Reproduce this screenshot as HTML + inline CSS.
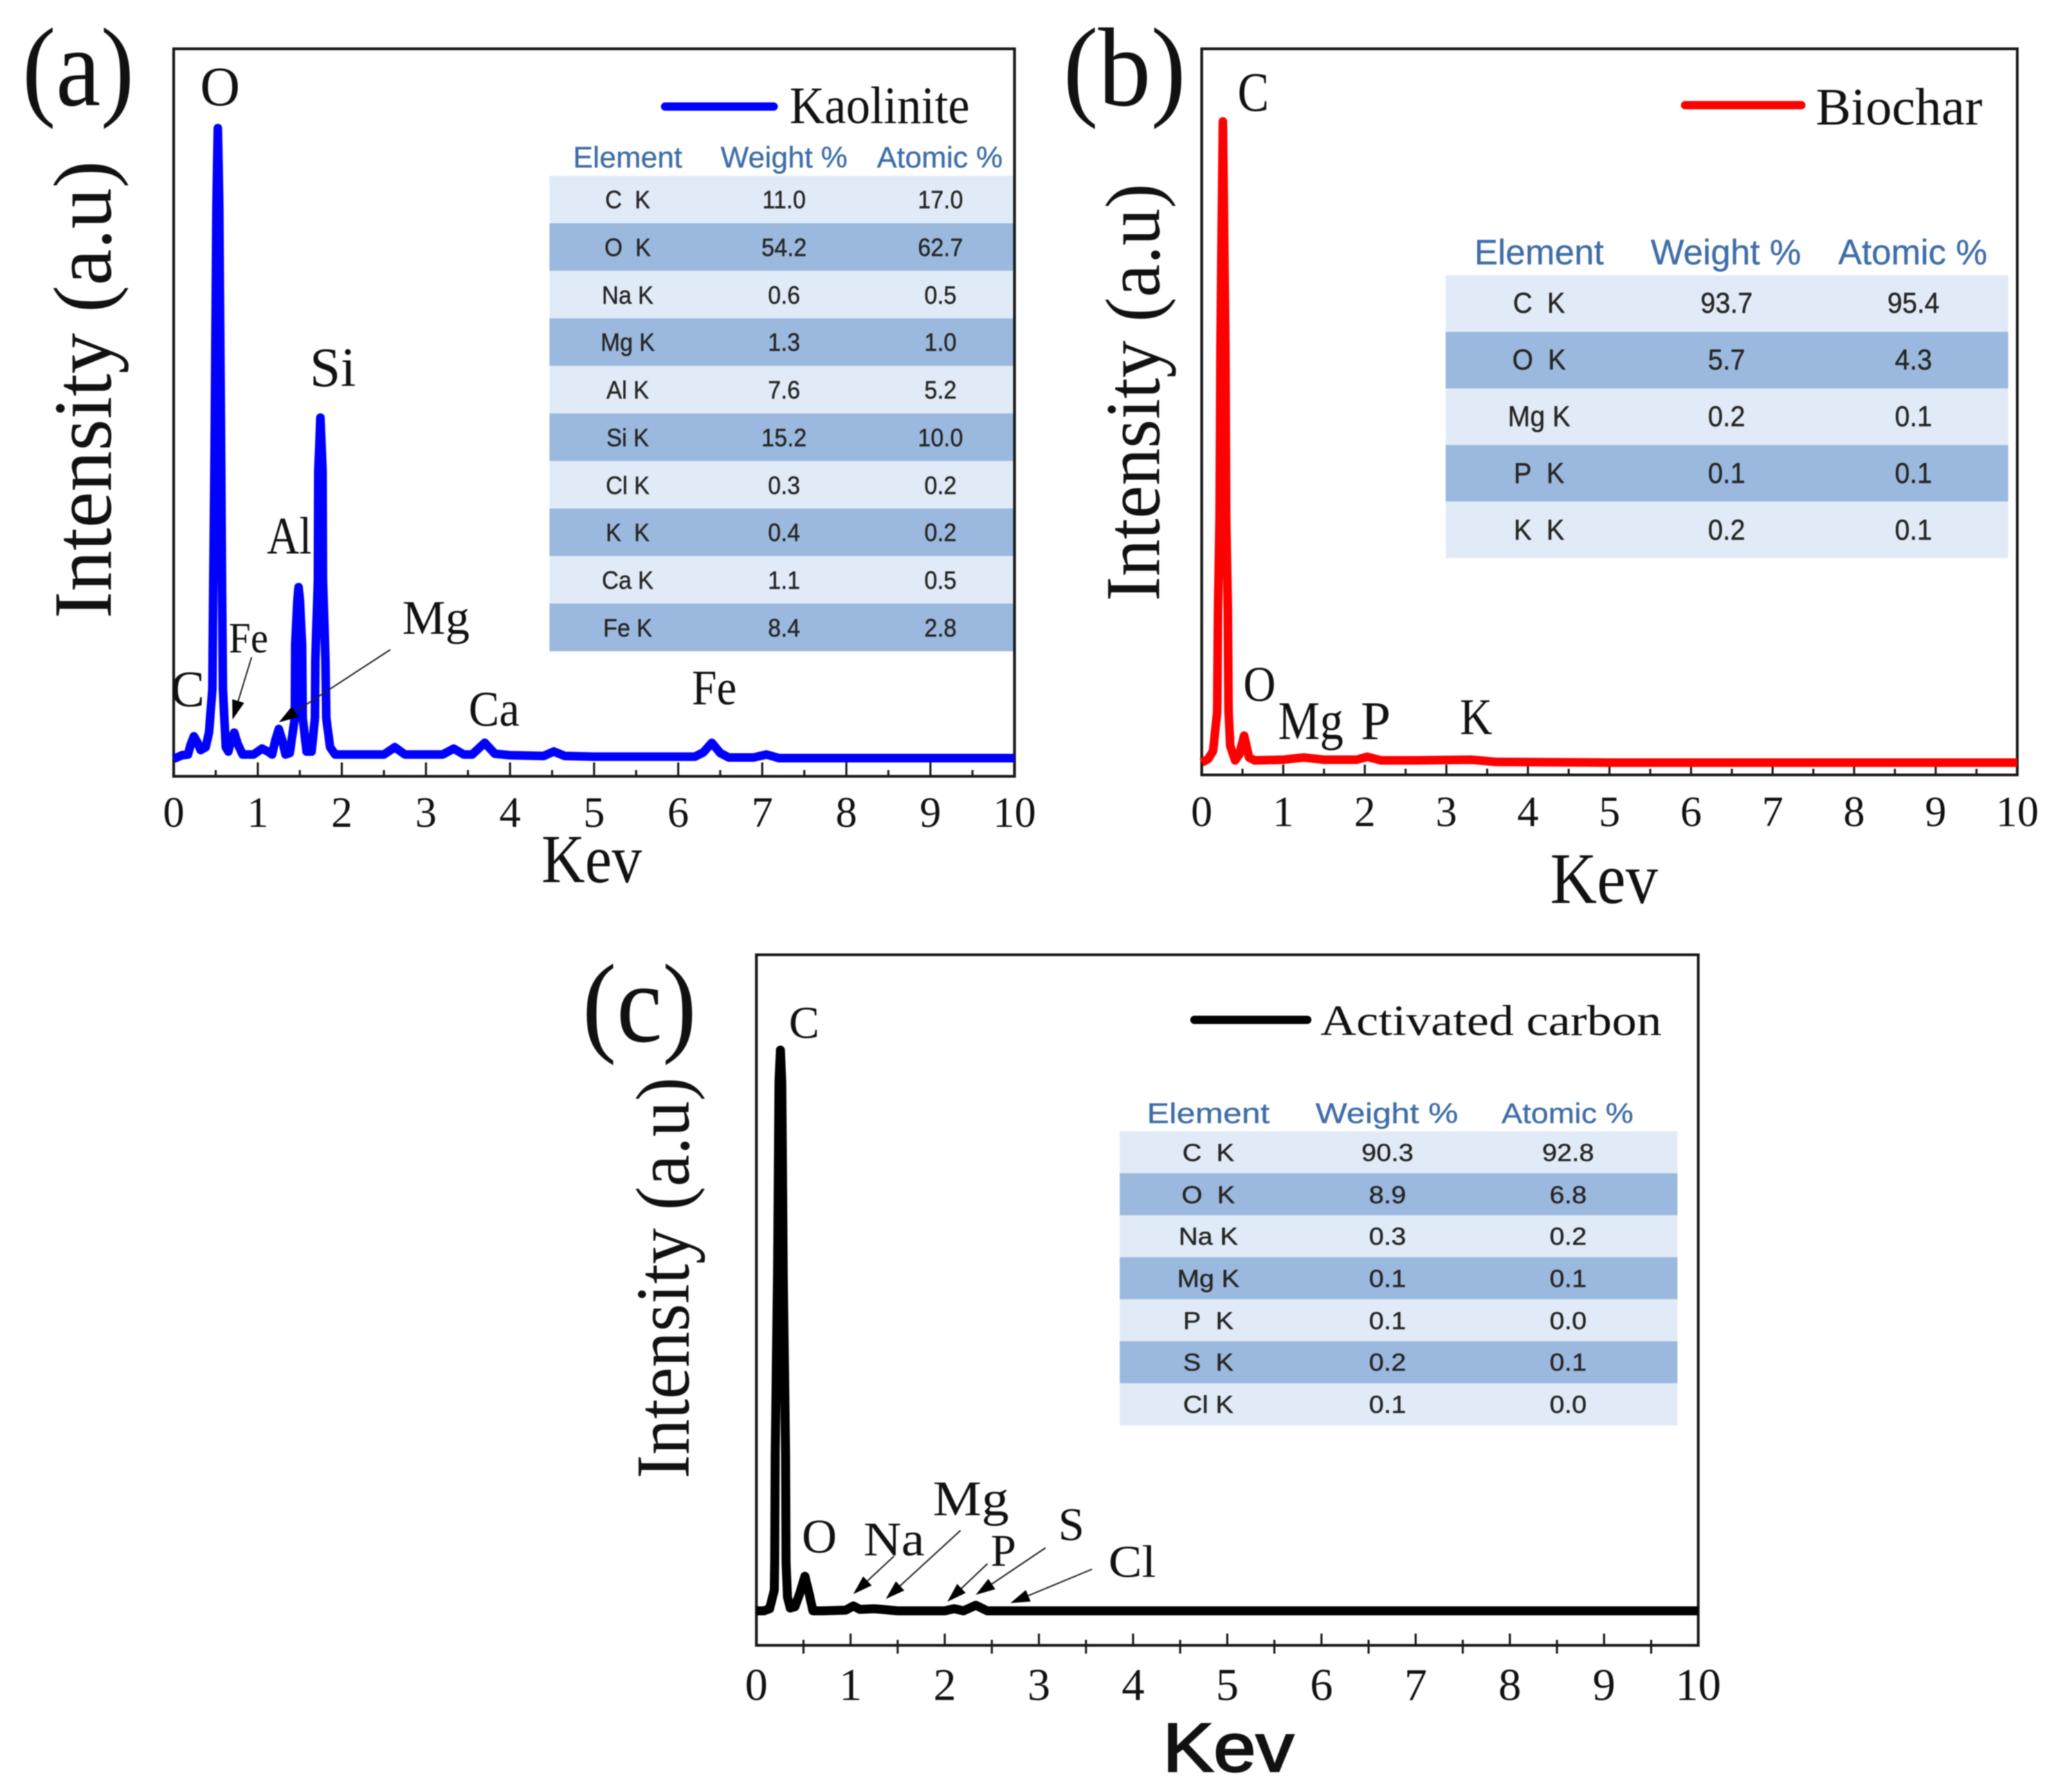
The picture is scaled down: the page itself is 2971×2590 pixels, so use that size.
<!DOCTYPE html>
<html lang="en">
<head>
<meta charset="utf-8">
<title>EDS spectra of kaolinite, biochar and activated carbon</title>
<style>
html,body{margin:0;padding:0;background:#fff;}
#figure{display:block;width:2971px;height:2590px;filter:blur(0.9px);}
.serif{font-family:"Liberation Serif",serif;fill:#111;}
.sans{font-family:"Liberation Sans",sans-serif;}
.tbl{font-family:"Liberation Sans",sans-serif;fill:#262626;text-anchor:middle;stroke:#262626;stroke-width:.5px;}
.hdr{font-family:"Liberation Sans",sans-serif;fill:#3f6ea8;text-anchor:middle;stroke:#3f6ea8;stroke-width:.4px;}
.mid{text-anchor:middle;}
.light{fill:#e1ebf7;}
.dark{fill:#9bb9de;}
</style>
</head>
<body>
<svg id="figure" xmlns="http://www.w3.org/2000/svg" width="2971" height="2590" viewBox="0 0 2971 2590">
<rect x="0" y="0" width="2971" height="2590" fill="#fff"/>

<!-- Panel letters -->
<text class="serif mid" transform="translate(113,152) scale(.9,1)" font-size="162">(a)</text>
<text class="serif mid" transform="translate(1625,152) scale(.94,1)" font-size="162">(b)</text>
<text class="serif mid" transform="translate(924,1505) scale(.92,1)" font-size="162">(c)</text>

<!-- Table backgrounds panel a -->
<g>
<rect class="light" x="794" y="254" width="670" height="69"/>
<rect class="dark" x="794" y="322.7" width="670" height="69"/>
<rect class="light" x="794" y="391.4" width="670" height="69"/>
<rect class="dark" x="794" y="460.1" width="670" height="69"/>
<rect class="light" x="794" y="528.8" width="670" height="69"/>
<rect class="dark" x="794" y="597.5" width="670" height="69"/>
<rect class="light" x="794" y="666.2" width="670" height="69"/>
<rect class="dark" x="794" y="734.9" width="670" height="69"/>
<rect class="light" x="794" y="803.6" width="670" height="69"/>
<rect class="dark" x="794" y="872.3" width="670" height="69"/>
</g>
<!-- Table backgrounds panel b -->
<g>
<rect class="light" x="2089" y="398" width="813" height="82"/>
<rect class="dark" x="2089" y="479.7" width="813" height="82"/>
<rect class="light" x="2089" y="561.4" width="813" height="82"/>
<rect class="dark" x="2089" y="643.1" width="813" height="82"/>
<rect class="light" x="2089" y="724.8" width="813" height="82"/>
</g>
<!-- Table backgrounds panel c -->
<g>
<rect class="light" x="1618" y="1635" width="806" height="61"/>
<rect class="dark" x="1618" y="1695.7" width="806" height="61"/>
<rect class="light" x="1618" y="1756.4" width="806" height="61"/>
<rect class="dark" x="1618" y="1817.1" width="806" height="61"/>
<rect class="light" x="1618" y="1877.8" width="806" height="61"/>
<rect class="dark" x="1618" y="1938.5" width="806" height="61"/>
<rect class="light" x="1618" y="1999.2" width="806" height="61"/>
</g>

<!-- Marks drawn by script -->
<g id="marks"></g>

<!-- Y axis titles -->
<text class="serif" transform="translate(160,894) rotate(-90) scale(.983,1)" font-size="120">Intensity (a.u)</text>
<text class="serif" transform="translate(1675,869) rotate(-90) scale(.961,1)" font-size="112">Intensity (a.u)</text>
<text class="serif" transform="translate(995,2137) rotate(-90) scale(.94,1)" font-size="110">Intensity (a.u)</text>

<!-- X axis titles -->
<text class="serif mid" transform="translate(855,1275) scale(.87,1)" font-size="100">Kev</text>
<text class="serif mid" transform="translate(2318,1305) scale(.89,1)" font-size="105">Kev</text>
<text class="sans mid" fill="#111" stroke="#111" stroke-width="2.5" transform="translate(1775,2560) scale(1.11,1)" font-size="99">Kev</text>

<!-- Legends -->
<line x1="961" y1="154" x2="1118" y2="154" stroke="#0000ff" stroke-width="12" stroke-linecap="round"/>
<text class="serif" transform="translate(1141,178) scale(.92,1)" font-size="76">Kaolinite</text>
<line x1="2435" y1="152" x2="2603" y2="152" stroke="#ff0000" stroke-width="12" stroke-linecap="round"/>
<text class="serif" transform="translate(2624,180)" font-size="76">Biochar</text>
<line x1="1726" y1="1474" x2="1889" y2="1474" stroke="#000" stroke-width="12" stroke-linecap="round"/>
<text class="serif" transform="translate(1908,1496) scale(1.16,1)" font-size="62">Activated carbon</text>

<!-- Peak labels panel a -->
<text class="serif mid" x="318" y="152" font-size="80">O</text>
<text class="serif mid" x="481" y="558" font-size="80">Si</text>
<text class="serif mid" transform="translate(418,800) scale(.85,1)" font-size="76">Al</text>
<text class="serif mid" transform="translate(359,943) scale(.92,1)" font-size="62">Fe</text>
<text class="serif mid" x="271" y="1021" font-size="74">C</text>
<text class="serif mid" x="630" y="916" font-size="70">Mg</text>
<text class="serif mid" transform="translate(714,1049) scale(.92,1)" font-size="72">Ca</text>
<text class="serif mid" transform="translate(1032,1018) scale(.9,1)" font-size="72">Fe</text>

<!-- Peak labels panel b -->
<text class="serif mid" transform="translate(1811,160) scale(.85,1)" font-size="80">C</text>
<text class="serif mid" transform="translate(1820,1013) scale(.9,1)" font-size="72">O</text>
<text class="serif mid" transform="translate(1894,1068) scale(.87,1)" font-size="78">Mg</text>
<text class="serif mid" x="1988" y="1068" font-size="78">P</text>
<text class="serif mid" transform="translate(2133,1061) scale(.88,1)" font-size="74">K</text>

<!-- Peak labels panel c -->
<text class="serif mid" x="1162" y="1500" font-size="66">C</text>
<text class="serif mid" x="1184" y="2244" font-size="70">O</text>
<text class="serif mid" transform="translate(1292,2248) scale(1.08,1)" font-size="70">Na</text>
<text class="serif mid" transform="translate(1403,2190) scale(1.1,1)" font-size="72">Mg</text>
<text class="serif mid" x="1450" y="2263" font-size="66">P</text>
<text class="serif mid" x="1548" y="2226" font-size="68">S</text>
<text class="serif mid" transform="translate(1636,2279) scale(1.1,1)" font-size="66">Cl</text>

<!-- Table panel a -->
<g>
<text class="hdr" x="907" y="242" font-size="43">Element</text>
<text class="hdr" transform="translate(1133,242)" font-size="43">Weight %</text>
<text class="hdr" transform="translate(1358,242)" font-size="43">Atomic %</text>
<text class="tbl" transform="translate(907,301) scale(.93,1)" font-size="36">C&#160;&#160;K</text><text class="tbl" transform="translate(1133,301) scale(.93,1)" font-size="36">11.0</text><text class="tbl" transform="translate(1359,301) scale(.93,1)" font-size="36">17.0</text>
<text class="tbl" transform="translate(907,370) scale(.93,1)" font-size="36">O&#160;&#160;K</text><text class="tbl" transform="translate(1133,370) scale(.93,1)" font-size="36">54.2</text><text class="tbl" transform="translate(1359,370) scale(.93,1)" font-size="36">62.7</text>
<text class="tbl" transform="translate(907,439) scale(.93,1)" font-size="36">Na K</text><text class="tbl" transform="translate(1133,439) scale(.93,1)" font-size="36">0.6</text><text class="tbl" transform="translate(1359,439) scale(.93,1)" font-size="36">0.5</text>
<text class="tbl" transform="translate(907,507) scale(.93,1)" font-size="36">Mg K</text><text class="tbl" transform="translate(1133,507) scale(.93,1)" font-size="36">1.3</text><text class="tbl" transform="translate(1359,507) scale(.93,1)" font-size="36">1.0</text>
<text class="tbl" transform="translate(907,576) scale(.93,1)" font-size="36">Al K</text><text class="tbl" transform="translate(1133,576) scale(.93,1)" font-size="36">7.6</text><text class="tbl" transform="translate(1359,576) scale(.93,1)" font-size="36">5.2</text>
<text class="tbl" transform="translate(907,645) scale(.93,1)" font-size="36">Si K</text><text class="tbl" transform="translate(1133,645) scale(.93,1)" font-size="36">15.2</text><text class="tbl" transform="translate(1359,645) scale(.93,1)" font-size="36">10.0</text>
<text class="tbl" transform="translate(907,714) scale(.93,1)" font-size="36">Cl K</text><text class="tbl" transform="translate(1133,714) scale(.93,1)" font-size="36">0.3</text><text class="tbl" transform="translate(1359,714) scale(.93,1)" font-size="36">0.2</text>
<text class="tbl" transform="translate(907,782) scale(.93,1)" font-size="36">K&#160;&#160;K</text><text class="tbl" transform="translate(1133,782) scale(.93,1)" font-size="36">0.4</text><text class="tbl" transform="translate(1359,782) scale(.93,1)" font-size="36">0.2</text>
<text class="tbl" transform="translate(907,851) scale(.93,1)" font-size="36">Ca K</text><text class="tbl" transform="translate(1133,851) scale(.93,1)" font-size="36">1.1</text><text class="tbl" transform="translate(1359,851) scale(.93,1)" font-size="36">0.5</text>
<text class="tbl" transform="translate(907,920) scale(.93,1)" font-size="36">Fe K</text><text class="tbl" transform="translate(1133,920) scale(.93,1)" font-size="36">8.4</text><text class="tbl" transform="translate(1359,920) scale(.93,1)" font-size="36">2.8</text>
</g>

<!-- Table panel b -->
<g>
<text class="hdr" x="2224" y="382" font-size="51">Element</text>
<text class="hdr" x="2494" y="382" font-size="51">Weight %</text>
<text class="hdr" x="2764" y="382" font-size="51">Atomic %</text>
<text class="tbl" transform="translate(2224,452) scale(.92,1)" font-size="42">C&#160;&#160;K</text><text class="tbl" transform="translate(2495,452) scale(.92,1)" font-size="42">93.7</text><text class="tbl" transform="translate(2765,452) scale(.92,1)" font-size="42">95.4</text>
<text class="tbl" transform="translate(2224,534) scale(.92,1)" font-size="42">O&#160;&#160;K</text><text class="tbl" transform="translate(2495,534) scale(.92,1)" font-size="42">5.7</text><text class="tbl" transform="translate(2765,534) scale(.92,1)" font-size="42">4.3</text>
<text class="tbl" transform="translate(2224,616) scale(.92,1)" font-size="42">Mg K</text><text class="tbl" transform="translate(2495,616) scale(.92,1)" font-size="42">0.2</text><text class="tbl" transform="translate(2765,616) scale(.92,1)" font-size="42">0.1</text>
<text class="tbl" transform="translate(2224,698) scale(.92,1)" font-size="42">P&#160;&#160;K</text><text class="tbl" transform="translate(2495,698) scale(.92,1)" font-size="42">0.1</text><text class="tbl" transform="translate(2765,698) scale(.92,1)" font-size="42">0.1</text>
<text class="tbl" transform="translate(2224,780) scale(.92,1)" font-size="42">K&#160;&#160;K</text><text class="tbl" transform="translate(2495,780) scale(.92,1)" font-size="42">0.2</text><text class="tbl" transform="translate(2765,780) scale(.92,1)" font-size="42">0.1</text>
</g>

<!-- Table panel c -->
<g>
<text class="hdr" transform="translate(1746,1623) scale(1.18,1)" font-size="41">Element</text>
<text class="hdr" transform="translate(2004,1623) scale(1.18,1)" font-size="41">Weight %</text>
<text class="hdr" transform="translate(2265,1623) scale(1.1,1)" font-size="41">Atomic %</text>
<text class="tbl" transform="translate(1746,1678) scale(1.1,1)" font-size="35">C&#160;&#160;K</text><text class="tbl" transform="translate(2005,1678) scale(1.1,1)" font-size="35">90.3</text><text class="tbl" transform="translate(2266,1678) scale(1.1,1)" font-size="35">92.8</text>
<text class="tbl" transform="translate(1746,1739) scale(1.1,1)" font-size="35">O&#160;&#160;K</text><text class="tbl" transform="translate(2005,1739) scale(1.1,1)" font-size="35">8.9</text><text class="tbl" transform="translate(2266,1739) scale(1.1,1)" font-size="35">6.8</text>
<text class="tbl" transform="translate(1746,1799) scale(1.1,1)" font-size="35">Na K</text><text class="tbl" transform="translate(2005,1799) scale(1.1,1)" font-size="35">0.3</text><text class="tbl" transform="translate(2266,1799) scale(1.1,1)" font-size="35">0.2</text>
<text class="tbl" transform="translate(1746,1860) scale(1.1,1)" font-size="35">Mg K</text><text class="tbl" transform="translate(2005,1860) scale(1.1,1)" font-size="35">0.1</text><text class="tbl" transform="translate(2266,1860) scale(1.1,1)" font-size="35">0.1</text>
<text class="tbl" transform="translate(1746,1921) scale(1.1,1)" font-size="35">P&#160;&#160;K</text><text class="tbl" transform="translate(2005,1921) scale(1.1,1)" font-size="35">0.1</text><text class="tbl" transform="translate(2266,1921) scale(1.1,1)" font-size="35">0.0</text>
<text class="tbl" transform="translate(1746,1981) scale(1.1,1)" font-size="35">S&#160;&#160;K</text><text class="tbl" transform="translate(2005,1981) scale(1.1,1)" font-size="35">0.2</text><text class="tbl" transform="translate(2266,1981) scale(1.1,1)" font-size="35">0.1</text>
<text class="tbl" transform="translate(1746,2042) scale(1.1,1)" font-size="35">Cl K</text><text class="tbl" transform="translate(2005,2042) scale(1.1,1)" font-size="35">0.1</text><text class="tbl" transform="translate(2266,2042) scale(1.1,1)" font-size="35">0.0</text>
</g>

<!-- Annotation arrows -->
<g id="arrows"></g>
</svg>

<script>
// Shared axis values
const xTickValues = [0, 1, 2, 3, 4, 5, 6, 7, 8, 9, 10];
const xTickLabels = ['0', '1', '2', '3', '4', '5', '6', '7', '8', '9', '10'];
const xMinorValues = [0.5, 1.5, 2.5, 3.5, 4.5, 5.5, 6.5, 7.5, 8.5, 9.5];

// Kaolinite spectrum (energy in keV, intensity in % of axis height)
const kaoliniteKev = [0,0.1,0.17,0.2,0.24,0.28,0.32,0.38,0.42,0.46,0.47,0.488,0.508,0.525,0.542,0.562,0.575,0.585,0.62,0.65,0.68,0.72,0.76,0.82,0.95,1.05,1.12,1.17,1.21,1.25,1.29,1.33,1.38,1.44,1.445,1.47,1.486,1.502,1.527,1.535,1.58,1.64,1.68,1.685,1.715,1.72,1.745,1.77,1.775,1.805,1.815,1.86,1.92,2.1,2.5,2.63,2.75,3.2,3.33,3.45,3.55,3.7,3.82,4,4.4,4.52,4.65,5,6.2,6.3,6.4,6.5,6.6,6.9,7.05,7.2,10];
const kaoliniteIntensity = [2.4,2.9,3,4.3,5.5,4.7,3.6,4,6,12,25.5,46.8,78,89.1,78,46.8,25.5,12,4,3.4,4.8,6,4.5,3,3,3.8,3.4,3,5,6.5,5,3,3.2,8,18,24,26,24,18,8,3.4,3.4,8,16,27,42,49.3,42,27,16,8,4,3,3,3,4,3,3,3.8,3,3,4.6,3.1,2.9,2.8,3.4,2.8,2.7,2.7,3.3,4.6,3.2,2.6,2.6,3,2.5,2.5];

// Biochar spectrum
const biocharKev = [0,0.08,0.14,0.19,0.2,0.22,0.23,0.247,0.26,0.273,0.29,0.3,0.32,0.33,0.35,0.41,0.46,0.52,0.58,0.65,1,1.25,1.5,1.9,2.03,2.2,2.6,3.3,3.6,5,10];
const biocharIntensity = [1.7,2.2,3.3,8.7,23,35.5,59,76.7,90,76.7,59,35.5,23,8.7,4,2,2.8,5.4,2.4,2,2.1,2.4,2.1,2.1,2.5,2,2,2.1,1.8,1.7,1.7];

// Activated carbon spectrum
const carbonKev = [0,0.08,0.14,0.19,0.195,0.2,0.225,0.24,0.255,0.27,0.285,0.31,0.315,0.33,0.36,0.41,0.46,0.515,0.56,0.6,0.7,0.95,1.03,1.1,1.25,1.5,2,2.1,2.2,2.33,2.45,3,10];
const carbonIntensity = [5,5,5.3,8,12,27.7,54,81.6,86.2,81.6,54,27.7,12,7,5.4,5.6,7.5,10,7.5,5,5,5.1,5.7,5.2,5.3,5,5,5.3,5,5.8,5,5,5];

const panels = [
  {key:'a', left:251, right:1466, top:70.5, bottom:1122, baseline:1195, fs:62, color:'#0000ff', major:20, minorUp:9, minorDown:0, sw:12.5, kev:kaoliniteKev, val:kaoliniteIntensity},
  {key:'b', left:1736.5, right:2915, top:70.5, bottom:1120, baseline:1194, fs:62, color:'#ff0000', major:15, minorUp:9, minorDown:0, sw:12.5, kev:biocharKev, val:biocharIntensity},
  {key:'c', left:1093, right:2454, top:1380, bottom:2378, baseline:2457, fs:66, color:'#000000', major:17, minorUp:8, minorDown:12, sw:13, kev:carbonKev, val:carbonIntensity}
];

const NS = 'http://www.w3.org/2000/svg';
const marks = document.getElementById('marks');
const arrowLayer = document.getElementById('arrows');

function xScale(p, k) { return p.left + (p.right - p.left) * k / 10; }
function yScale(p, v) { return p.bottom - (p.bottom - p.top) * v / 100; }

panels.forEach(function (p) {
  const frame = document.createElementNS(NS, 'rect');
  
  
  frame.setAttribute('x', p.left);
  frame.setAttribute('y', p.top);
  frame.setAttribute('width', p.right - p.left);
  frame.setAttribute('height', p.bottom - p.top);
  frame.setAttribute('fill', 'none');
  frame.setAttribute('stroke', '#1a1a1a');
  frame.setAttribute('stroke-width', '4');
  marks.appendChild(frame);

  xTickValues.forEach(function (t, i) {
    const tick = document.createElementNS(NS, 'line');
    
    
    tick.setAttribute('x1', xScale(p, t));
    tick.setAttribute('x2', xScale(p, t));
    tick.setAttribute('y1', p.bottom);
    tick.setAttribute('y2', p.bottom - p.major);
    tick.setAttribute('stroke', '#1a1a1a');
    tick.setAttribute('stroke-width', '3');
    marks.appendChild(tick);

    const label = document.createElementNS(NS, 'text');
    
    
    label.setAttribute('class', 'serif mid');
    label.setAttribute('x', xScale(p, t));
    label.setAttribute('y', p.baseline);
    label.setAttribute('font-size', p.fs);
    label.textContent = xTickLabels[i];
    marks.appendChild(label);
  });

  xMinorValues.forEach(function (t) {
    const minor = document.createElementNS(NS, 'line');
    
    
    minor.setAttribute('x1', xScale(p, t));
    minor.setAttribute('x2', xScale(p, t));
    minor.setAttribute('y1', p.bottom + p.minorDown);
    minor.setAttribute('y2', p.bottom - p.minorUp);
    minor.setAttribute('stroke', '#1a1a1a');
    minor.setAttribute('stroke-width', '3');
    marks.appendChild(minor);
  });

  const series = document.createElementNS(NS, 'polyline');
  
  
  series.setAttribute('points', p.kev.map(function (k, i) {
    return xScale(p, k).toFixed(1) + ',' + yScale(p, p.val[i]).toFixed(1);
  }).join(' '));
  series.setAttribute('fill', 'none');
  series.setAttribute('stroke', p.color);
  series.setAttribute('stroke-width', p.sw);
  series.setAttribute('stroke-linejoin', 'round');
  marks.appendChild(series);
});

// Annotation arrows: start and tip of each leader line
const arrowStartX = [363.5, 564, 1292, 1388, 1427, 1511, 1578];
const arrowStartY = [950, 939, 2249, 2212, 2260, 2237, 2268];
const arrowTipX = [336, 403, 1233, 1280, 1369, 1410, 1460];
const arrowTipY = [1040, 1044, 2304, 2311, 2315, 2305, 2317];

arrowStartX.forEach(function (sx, i) {
  const tx = arrowTipX[i], ty = arrowTipY[i], sy = arrowStartY[i];
  const d = Math.hypot(tx - sx, ty - sy), ux = (tx - sx) / d, uy = (ty - sy) / d;
  const bx = tx - ux * 28, by = ty - uy * 28;

  const shaft = document.createElementNS(NS, 'line');
  
  
  shaft.setAttribute('x1', sx);
  shaft.setAttribute('y1', sy);
  shaft.setAttribute('x2', bx);
  shaft.setAttribute('y2', by);
  shaft.setAttribute('stroke', '#222');
  shaft.setAttribute('stroke-width', '2');
  arrowLayer.appendChild(shaft);

  const head = document.createElementNS(NS, 'polygon');
  
  
  head.setAttribute('points', [tx, ty, bx - uy * 9, by + ux * 9, bx + uy * 9, by - ux * 9].join(' '));
  head.setAttribute('fill', '#000');
  arrowLayer.appendChild(head);
});
</script>
</body>
</html>
